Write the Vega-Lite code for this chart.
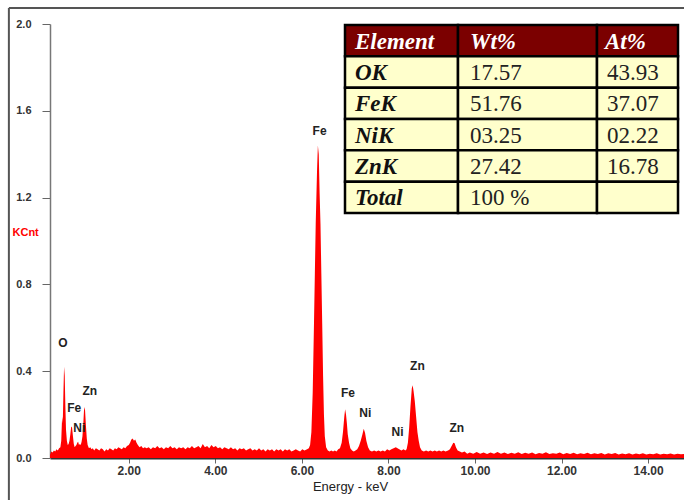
{
  "$schema": "https://vega.github.io/schema/vega-lite/v6.json",
  "width": 634,
  "height": 434,
  "autosize": {"type": "none"},
  "padding": {"left": 50, "top": 24, "right": 0, "bottom": 42},
  "background": "white",
  "config": {"view": {"stroke": null}, "axis": {"grid": false}, "font": "Liberation Sans"},
  "datasets": {
    "spectrum": [
      {"keV":0.18,"kcnt":0.015},{"keV":0.21,"kcnt":0.03},{"keV":0.24,"kcnt":0.025},{"keV":0.27,"kcnt":0.035},{"keV":0.30,"kcnt":0.03},{"keV":0.33,"kcnt":0.04},{"keV":0.36,"kcnt":0.035},{"keV":0.39,"kcnt":0.045},{"keV":0.42,"kcnt":0.05},{"keV":0.44,"kcnt":0.08},{"keV":0.46,"kcnt":0.19},{"keV":0.475,"kcnt":0.16},{"keV":0.49,"kcnt":0.30},{"keV":0.505,"kcnt":0.42},{"keV":0.52,"kcnt":0.38},{"keV":0.535,"kcnt":0.24},{"keV":0.55,"kcnt":0.13},{"keV":0.57,"kcnt":0.08},{"keV":0.59,"kcnt":0.06},{"keV":0.61,"kcnt":0.065},{"keV":0.63,"kcnt":0.08},{"keV":0.65,"kcnt":0.11},{"keV":0.67,"kcnt":0.145},{"keV":0.69,"kcnt":0.14},{"keV":0.71,"kcnt":0.10},{"keV":0.73,"kcnt":0.065},{"keV":0.75,"kcnt":0.05},{"keV":0.77,"kcnt":0.055},{"keV":0.79,"kcnt":0.06},{"keV":0.81,"kcnt":0.07},{"keV":0.83,"kcnt":0.075},{"keV":0.85,"kcnt":0.06},{"keV":0.87,"kcnt":0.065},{"keV":0.89,"kcnt":0.06},{"keV":0.91,"kcnt":0.075},{"keV":0.93,"kcnt":0.10},{"keV":0.95,"kcnt":0.16},{"keV":0.97,"kcnt":0.235},{"keV":0.99,"kcnt":0.22},{"keV":1.01,"kcnt":0.15},{"keV":1.03,"kcnt":0.09},{"keV":1.05,"kcnt":0.06},{"keV":1.08,"kcnt":0.045},{"keV":1.11,"kcnt":0.05},{"keV":1.14,"kcnt":0.04},{"keV":1.17,"kcnt":0.045},{"keV":1.20,"kcnt":0.035},{"keV":1.24,"kcnt":0.045},{"keV":1.28,"kcnt":0.04},{"keV":1.32,"kcnt":0.035},{"keV":1.36,"kcnt":0.045},{"keV":1.40,"kcnt":0.04},{"keV":1.44,"kcnt":0.03},{"keV":1.48,"kcnt":0.04},{"keV":1.52,"kcnt":0.035},{"keV":1.56,"kcnt":0.045},{"keV":1.60,"kcnt":0.04},{"keV":1.64,"kcnt":0.035},{"keV":1.68,"kcnt":0.045},{"keV":1.72,"kcnt":0.04},{"keV":1.76,"kcnt":0.05},{"keV":1.80,"kcnt":0.045},{"keV":1.84,"kcnt":0.04},{"keV":1.88,"kcnt":0.05},{"keV":1.92,"kcnt":0.045},{"keV":1.96,"kcnt":0.055},{"keV":2.00,"kcnt":0.06},{"keV":2.03,"kcnt":0.07},{"keV":2.06,"kcnt":0.085},{"keV":2.09,"kcnt":0.09},{"keV":2.12,"kcnt":0.08},{"keV":2.15,"kcnt":0.085},{"keV":2.18,"kcnt":0.07},{"keV":2.21,"kcnt":0.06},{"keV":2.25,"kcnt":0.05},{"keV":2.29,"kcnt":0.055},{"keV":2.33,"kcnt":0.045},{"keV":2.37,"kcnt":0.05},
      {"keV":2.41,"kcnt":0.045},{"keV":2.46,"kcnt":0.05},{"keV":2.51,"kcnt":0.04},{"keV":2.56,"kcnt":0.05},{"keV":2.61,"kcnt":0.045},{"keV":2.66,"kcnt":0.055},{"keV":2.71,"kcnt":0.045},{"keV":2.76,"kcnt":0.05},{"keV":2.81,"kcnt":0.04},{"keV":2.86,"kcnt":0.05},{"keV":2.91,"kcnt":0.045},{"keV":2.96,"kcnt":0.055},{"keV":3.01,"kcnt":0.045},{"keV":3.06,"kcnt":0.05},{"keV":3.11,"kcnt":0.04},{"keV":3.16,"kcnt":0.05},{"keV":3.21,"kcnt":0.045},{"keV":3.26,"kcnt":0.05},{"keV":3.31,"kcnt":0.04},{"keV":3.36,"kcnt":0.05},{"keV":3.41,"kcnt":0.045},{"keV":3.46,"kcnt":0.055},{"keV":3.51,"kcnt":0.045},{"keV":3.56,"kcnt":0.05},{"keV":3.61,"kcnt":0.055},{"keV":3.66,"kcnt":0.045},{"keV":3.71,"kcnt":0.065},{"keV":3.76,"kcnt":0.05},{"keV":3.81,"kcnt":0.055},{"keV":3.86,"kcnt":0.045},{"keV":3.91,"kcnt":0.06},{"keV":3.96,"kcnt":0.05},{"keV":4.01,"kcnt":0.055},{"keV":4.06,"kcnt":0.045},{"keV":4.11,"kcnt":0.05},{"keV":4.16,"kcnt":0.04},{"keV":4.21,"kcnt":0.05},{"keV":4.26,"kcnt":0.045},{"keV":4.31,"kcnt":0.04},{"keV":4.36,"kcnt":0.05},{"keV":4.41,"kcnt":0.04},{"keV":4.46,"kcnt":0.045},{"keV":4.51,"kcnt":0.035},{"keV":4.56,"kcnt":0.045},{"keV":4.61,"kcnt":0.04},{"keV":4.66,"kcnt":0.045},{"keV":4.71,"kcnt":0.035},{"keV":4.76,"kcnt":0.04},{"keV":4.81,"kcnt":0.045},{"keV":4.86,"kcnt":0.035},{"keV":4.91,"kcnt":0.04},{"keV":4.96,"kcnt":0.035},{"keV":5.01,"kcnt":0.045},{"keV":5.06,"kcnt":0.035},{"keV":5.11,"kcnt":0.04},{"keV":5.16,"kcnt":0.03},{"keV":5.21,"kcnt":0.04},{"keV":5.26,"kcnt":0.035},{"keV":5.31,"kcnt":0.04},{"keV":5.36,"kcnt":0.03},{"keV":5.41,"kcnt":0.04},{"keV":5.46,"kcnt":0.035},{"keV":5.51,"kcnt":0.04},{"keV":5.56,"kcnt":0.03},{"keV":5.61,"kcnt":0.04},{"keV":5.66,"kcnt":0.035},{"keV":5.71,"kcnt":0.04},{"keV":5.76,"kcnt":0.03},{"keV":5.81,"kcnt":0.035},{"keV":5.86,"kcnt":0.04},{"keV":5.91,"kcnt":0.035},{"keV":5.96,"kcnt":0.03},{"keV":6.01,"kcnt":0.04},{"keV":6.06,"kcnt":0.035},
      {"keV":6.12,"kcnt":0.04},{"keV":6.16,"kcnt":0.045},{"keV":6.19,"kcnt":0.06},{"keV":6.22,"kcnt":0.12},{"keV":6.25,"kcnt":0.30},{"keV":6.28,"kcnt":0.62},{"keV":6.30,"kcnt":0.85},{"keV":6.32,"kcnt":1.08},{"keV":6.35,"kcnt":1.32},{"keV":6.37,"kcnt":1.44},{"keV":6.39,"kcnt":1.40},{"keV":6.41,"kcnt":1.22},{"keV":6.43,"kcnt":1.08},{"keV":6.45,"kcnt":0.85},{"keV":6.47,"kcnt":0.62},{"keV":6.49,"kcnt":0.38},{"keV":6.51,"kcnt":0.20},{"keV":6.53,"kcnt":0.10},{"keV":6.56,"kcnt":0.05},{"keV":6.60,"kcnt":0.035},{"keV":6.64,"kcnt":0.03},{"keV":6.68,"kcnt":0.035},{"keV":6.72,"kcnt":0.03},{"keV":6.76,"kcnt":0.035},{"keV":6.80,"kcnt":0.03},{"keV":6.84,"kcnt":0.04},{"keV":6.88,"kcnt":0.045},{"keV":6.92,"kcnt":0.07},{"keV":6.95,"kcnt":0.12},{"keV":6.98,"kcnt":0.19},{"keV":7.00,"kcnt":0.225},{"keV":7.02,"kcnt":0.20},{"keV":7.04,"kcnt":0.16},{"keV":7.06,"kcnt":0.11},{"keV":7.09,"kcnt":0.07},{"keV":7.12,"kcnt":0.045},{"keV":7.16,"kcnt":0.035},{"keV":7.20,"kcnt":0.03},{"keV":7.24,"kcnt":0.035},{"keV":7.28,"kcnt":0.04},{"keV":7.32,"kcnt":0.055},{"keV":7.36,"kcnt":0.08},{"keV":7.40,"kcnt":0.11},{"keV":7.43,"kcnt":0.135},{"keV":7.46,"kcnt":0.115},{"keV":7.49,"kcnt":0.08},{"keV":7.53,"kcnt":0.05},{"keV":7.57,"kcnt":0.035},{"keV":7.62,"kcnt":0.03},{"keV":7.67,"kcnt":0.035},{"keV":7.72,"kcnt":0.03},{"keV":7.77,"kcnt":0.035},{"keV":7.82,"kcnt":0.03},{"keV":7.87,"kcnt":0.035},{"keV":7.92,"kcnt":0.03},{"keV":7.97,"kcnt":0.04},{"keV":8.02,"kcnt":0.035},{"keV":8.07,"kcnt":0.04},{"keV":8.12,"kcnt":0.045},{"keV":8.17,"kcnt":0.05},{"keV":8.21,"kcnt":0.045},{"keV":8.25,"kcnt":0.04},{"keV":8.30,"kcnt":0.035},{"keV":8.35,"kcnt":0.04},{"keV":8.39,"kcnt":0.035},{"keV":8.42,"kcnt":0.04},{"keV":8.45,"kcnt":0.07},{"keV":8.48,"kcnt":0.14},{"keV":8.51,"kcnt":0.24},{"keV":8.54,"kcnt":0.32},{"keV":8.56,"kcnt":0.335},{"keV":8.58,"kcnt":0.31},{"keV":8.61,"kcnt":0.26},{"keV":8.64,"kcnt":0.19},{"keV":8.67,"kcnt":0.12},{"keV":8.70,"kcnt":0.08},{"keV":8.73,"kcnt":0.05},{"keV":8.77,"kcnt":0.035},{"keV":8.82,"kcnt":0.03},{"keV":8.87,"kcnt":0.035},{"keV":8.92,"kcnt":0.03},{"keV":8.97,"kcnt":0.035},{"keV":9.02,"kcnt":0.03},{"keV":9.07,"kcnt":0.035},{"keV":9.12,"kcnt":0.03},{"keV":9.17,"kcnt":0.035},{"keV":9.22,"kcnt":0.03},{"keV":9.27,"kcnt":0.035},{"keV":9.32,"kcnt":0.03},{"keV":9.38,"kcnt":0.035},{"keV":9.42,"kcnt":0.04},{"keV":9.46,"kcnt":0.055},{"keV":9.50,"kcnt":0.07},{"keV":9.53,"kcnt":0.068},{"keV":9.56,"kcnt":0.05},{"keV":9.60,"kcnt":0.035},{"keV":9.65,"kcnt":0.03},{"keV":9.70,"kcnt":0.025},{"keV":9.76,"kcnt":0.03},{"keV":9.82,"kcnt":0.02},
      {"keV":9.88,"kcnt":0.025},{"keV":9.96,"kcnt":0.02},{"keV":10.04,"kcnt":0.028},{"keV":10.12,"kcnt":0.02},{"keV":10.20,"kcnt":0.025},{"keV":10.28,"kcnt":0.018},{"keV":10.36,"kcnt":0.025},{"keV":10.44,"kcnt":0.02},{"keV":10.52,"kcnt":0.028},{"keV":10.60,"kcnt":0.02},{"keV":10.68,"kcnt":0.025},{"keV":10.76,"kcnt":0.018},{"keV":10.84,"kcnt":0.024},{"keV":10.92,"kcnt":0.02},{"keV":11.00,"kcnt":0.026},{"keV":11.08,"kcnt":0.018},{"keV":11.16,"kcnt":0.024},{"keV":11.24,"kcnt":0.02},{"keV":11.32,"kcnt":0.025},{"keV":11.40,"kcnt":0.017},{"keV":11.48,"kcnt":0.023},{"keV":11.56,"kcnt":0.02},{"keV":11.64,"kcnt":0.026},{"keV":11.72,"kcnt":0.018},{"keV":11.80,"kcnt":0.022},{"keV":11.88,"kcnt":0.02},{"keV":11.96,"kcnt":0.025},{"keV":12.04,"kcnt":0.017},{"keV":12.12,"kcnt":0.023},{"keV":12.20,"kcnt":0.019},{"keV":12.28,"kcnt":0.024},{"keV":12.36,"kcnt":0.017},{"keV":12.44,"kcnt":0.022},{"keV":12.52,"kcnt":0.018},{"keV":12.60,"kcnt":0.024},{"keV":12.68,"kcnt":0.017},{"keV":12.76,"kcnt":0.022},{"keV":12.84,"kcnt":0.018},{"keV":12.92,"kcnt":0.023},{"keV":13.00,"kcnt":0.016},{"keV":13.08,"kcnt":0.022},{"keV":13.16,"kcnt":0.018},{"keV":13.24,"kcnt":0.023},{"keV":13.32,"kcnt":0.016},{"keV":13.40,"kcnt":0.021},{"keV":13.48,"kcnt":0.017},{"keV":13.56,"kcnt":0.022},{"keV":13.64,"kcnt":0.016},{"keV":13.72,"kcnt":0.021},{"keV":13.80,"kcnt":0.017},{"keV":13.88,"kcnt":0.022},{"keV":13.96,"kcnt":0.016},{"keV":14.04,"kcnt":0.02},{"keV":14.12,"kcnt":0.017},{"keV":14.20,"kcnt":0.022},{"keV":14.28,"kcnt":0.016},{"keV":14.36,"kcnt":0.02},{"keV":14.44,"kcnt":0.017},{"keV":14.52,"kcnt":0.021},{"keV":14.60,"kcnt":0.016},{"keV":14.68,"kcnt":0.02},{"keV":14.76,"kcnt":0.017},{"keV":14.83,"kcnt":0.019}
    ],
    "peaks": [
      {"label":"O","keV":0.48,"kcnt":0.531},
      {"label":"Fe","keV":0.74,"kcnt":0.23},
      {"label":"Ni","keV":0.857,"kcnt":0.138},
      {"label":"Zn","keV":1.10,"kcnt":0.31},
      {"label":"Fe","keV":6.41,"kcnt":1.508},
      {"label":"Fe","keV":7.065,"kcnt":0.298},
      {"label":"Ni","keV":7.465,"kcnt":0.206},
      {"label":"Ni","keV":8.21,"kcnt":0.118},
      {"label":"Zn","keV":8.67,"kcnt":0.424},
      {"label":"Zn","keV":9.58,"kcnt":0.137}
    ],
    "table": [
      {"row":"header","col":"Element","text":"Element"},{"row":"header","col":"Wt%","text":"Wt%"},{"row":"header","col":"At%","text":"At%"},
      {"row":"OK","col":"Element","text":"OK"},{"row":"OK","col":"Wt%","text":"17.57"},{"row":"OK","col":"At%","text":"43.93"},
      {"row":"FeK","col":"Element","text":"FeK"},{"row":"FeK","col":"Wt%","text":"51.76"},{"row":"FeK","col":"At%","text":"37.07"},
      {"row":"NiK","col":"Element","text":"NiK"},{"row":"NiK","col":"Wt%","text":"03.25"},{"row":"NiK","col":"At%","text":"02.22"},
      {"row":"ZnK","col":"Element","text":"ZnK"},{"row":"ZnK","col":"Wt%","text":"27.42"},{"row":"ZnK","col":"At%","text":"16.78"},
      {"row":"Total","col":"Element","text":"Total"},{"row":"Total","col":"Wt%","text":"100 %"},{"row":"Total","col":"At%","text":""}
    ]
  },
  "layer": [
    {
      "layer": [
        {
          "data": {"name": "spectrum"},
          "mark": {"type": "area", "color": "#ff0000", "interpolate": "linear"},
          "encoding": {
            "x": {"field": "keV", "type": "quantitative", "scale": {"domain": [0.18, 14.83], "nice": false, "zero": false},
              "axis": {"values": [2,4,6,8,10,12,14], "format": ".2f", "title": "Energy - keV", "labelFont": "Liberation Sans", "labelFontSize": 12, "labelFontWeight": "bold", "labelColor": "#333", "tickSize": 5, "tickColor": "#666", "domainColor": "#333", "domainWidth": 2, "labelPadding": 2, "titleFont": "Liberation Sans", "titleFontSize": 13, "titleFontWeight": "normal", "titleColor": "#222", "titlePadding": 4, "titleX": 300}},
            "y": {"field": "kcnt", "type": "quantitative", "scale": {"domain": [0, 2], "nice": false},
              "axis": {"values": [0,0.4,0.8,1.2,1.6,2.0], "format": ".1f", "title": "KCnt", "titleAngle": 0, "titleColor": "#ff0000", "titleFontWeight": "bold", "titleFontSize": 11, "titleFont": "Liberation Sans", "titleX": -38, "titleY": 208, "titleAlign": "left", "titleBaseline": "middle", "labelFont": "Liberation Sans", "labelFontSize": 11, "labelFontWeight": "bold", "labelColor": "#333", "tickSize": 8, "tickColor": "#666", "domainColor": "#777", "domainWidth": 1.5, "labelPadding": 11}}
          }
        },
        {
          "data": {"name": "peaks"},
          "mark": {"type": "text", "font": "Liberation Sans", "fontSize": 12, "fontWeight": "bold", "color": "#222", "align": "center", "baseline": "middle"},
          "encoding": {
            "x": {"field": "keV", "type": "quantitative"},
            "y": {"field": "kcnt", "type": "quantitative"},
            "text": {"field": "label"}
          }
        },
        {
          "data": {"values": [{}]},
          "mark": {"type": "rule", "color": "#555", "strokeWidth": 2},
          "encoding": {"x": {"datum": -0.77, "type": "quantitative"}, "x2": {"datum": 14.9}, "y": {"datum": 2.074, "type": "quantitative"}}
        },
        {
          "data": {"values": [{}]},
          "mark": {"type": "rule", "color": "#555", "strokeWidth": 2},
          "encoding": {"x": {"datum": -0.77, "type": "quantitative"}, "y": {"datum": 2.074, "type": "quantitative"}, "y2": {"datum": -0.2}}
        }
      ]
    },
    {
      "data": {"name": "table"},
      "layer": [
        {
          "transform": [{"filter": "datum.col === 'Element'"}],
          "encoding": {
            "y": {"field": "row", "type": "nominal", "scale": {"type": "band", "domain": ["header","OK","FeK","NiK","ZnK","Total"], "range": [1, 189], "paddingInner": 0, "paddingOuter": 0}, "axis": null}
          },
          "layer": [
            {"mark": {"type": "rect", "stroke": "#000", "strokeWidth": 2.5},
             "encoding": {
               "x": {"field": "col", "type": "nominal", "scale": {"type": "band", "domain": ["Element"], "range": [295, 408], "paddingInner": 0, "paddingOuter": 0}, "axis": null},
               "fill": {"condition": {"test": "datum.row === 'header'", "value": "#7b0000"}, "value": "#ffffcc"}}},
            {"mark": {"type": "text", "align": "left", "dx": 10, "dy": 1, "baseline": "middle", "font": "Liberation Serif", "fontSize": 23, "fontStyle": "italic", "fontWeight": "bold"},
             "encoding": {
               "x": {"field": "col", "type": "nominal", "bandPosition": 0, "scale": {"type": "band", "domain": ["Element"], "range": [295, 408], "paddingInner": 0, "paddingOuter": 0}, "axis": null},
               "text": {"field": "text"},
               "color": {"condition": {"test": "datum.row === 'header'", "value": "#ffffff"}, "value": "#111"}}}
          ]
        },
        {
          "transform": [{"filter": "datum.col === 'Wt%'"}],
          "encoding": {
            "y": {"field": "row", "type": "nominal", "scale": {"type": "band", "domain": ["header","OK","FeK","NiK","ZnK","Total"], "range": [1, 189], "paddingInner": 0, "paddingOuter": 0}, "axis": null}
          },
          "layer": [
            {"mark": {"type": "rect", "stroke": "#000", "strokeWidth": 2.5},
             "encoding": {
               "x": {"field": "col", "type": "nominal", "scale": {"type": "band", "domain": ["Wt%"], "range": [408, 547], "paddingInner": 0, "paddingOuter": 0}, "axis": null},
               "fill": {"condition": {"test": "datum.row === 'header'", "value": "#7b0000"}, "value": "#ffffcc"}}},
            {"transform": [{"filter": "datum.row === 'header'"}],
             "mark": {"type": "text", "align": "left", "dx": 12, "dy": 1, "baseline": "middle", "font": "Liberation Serif", "fontSize": 23, "fontStyle": "italic", "fontWeight": "bold", "color": "#ffffff"},
             "encoding": {
               "x": {"field": "col", "type": "nominal", "bandPosition": 0, "scale": {"type": "band", "domain": ["Wt%"], "range": [408, 547], "paddingInner": 0, "paddingOuter": 0}, "axis": null},
               "text": {"field": "text"}}},
            {"transform": [{"filter": "datum.row !== 'header'"}],
             "mark": {"type": "text", "align": "left", "dx": 12, "dy": 1, "baseline": "middle", "font": "Liberation Serif", "fontSize": 23, "color": "#222"},
             "encoding": {
               "x": {"field": "col", "type": "nominal", "bandPosition": 0, "scale": {"type": "band", "domain": ["Wt%"], "range": [408, 547], "paddingInner": 0, "paddingOuter": 0}, "axis": null},
               "text": {"field": "text"}}}
          ]
        },
        {
          "transform": [{"filter": "datum.col === 'At%'"}],
          "encoding": {
            "y": {"field": "row", "type": "nominal", "scale": {"type": "band", "domain": ["header","OK","FeK","NiK","ZnK","Total"], "range": [1, 189], "paddingInner": 0, "paddingOuter": 0}, "axis": null}
          },
          "layer": [
            {"mark": {"type": "rect", "stroke": "#000", "strokeWidth": 2.5},
             "encoding": {
               "x": {"field": "col", "type": "nominal", "scale": {"type": "band", "domain": ["At%"], "range": [547, 628], "paddingInner": 0, "paddingOuter": 0}, "axis": null},
               "fill": {"condition": {"test": "datum.row === 'header'", "value": "#7b0000"}, "value": "#ffffcc"}}},
            {"transform": [{"filter": "datum.row === 'header'"}],
             "mark": {"type": "text", "align": "left", "dx": 8, "dy": 1, "baseline": "middle", "font": "Liberation Serif", "fontSize": 23, "fontStyle": "italic", "fontWeight": "bold", "color": "#ffffff"},
             "encoding": {
               "x": {"field": "col", "type": "nominal", "bandPosition": 0, "scale": {"type": "band", "domain": ["At%"], "range": [547, 628], "paddingInner": 0, "paddingOuter": 0}, "axis": null},
               "text": {"field": "text"}}},
            {"transform": [{"filter": "datum.row !== 'header'"}],
             "mark": {"type": "text", "align": "left", "dx": 10, "dy": 1, "baseline": "middle", "font": "Liberation Serif", "fontSize": 23, "color": "#222"},
             "encoding": {
               "x": {"field": "col", "type": "nominal", "bandPosition": 0, "scale": {"type": "band", "domain": ["At%"], "range": [547, 628], "paddingInner": 0, "paddingOuter": 0}, "axis": null},
               "text": {"field": "text"}}}
          ]
        }
      ],
      "resolve": {"scale": {"x": "independent"}}
    }
  ],
  "resolve": {"scale": {"x": "independent", "y": "independent"}}
}
